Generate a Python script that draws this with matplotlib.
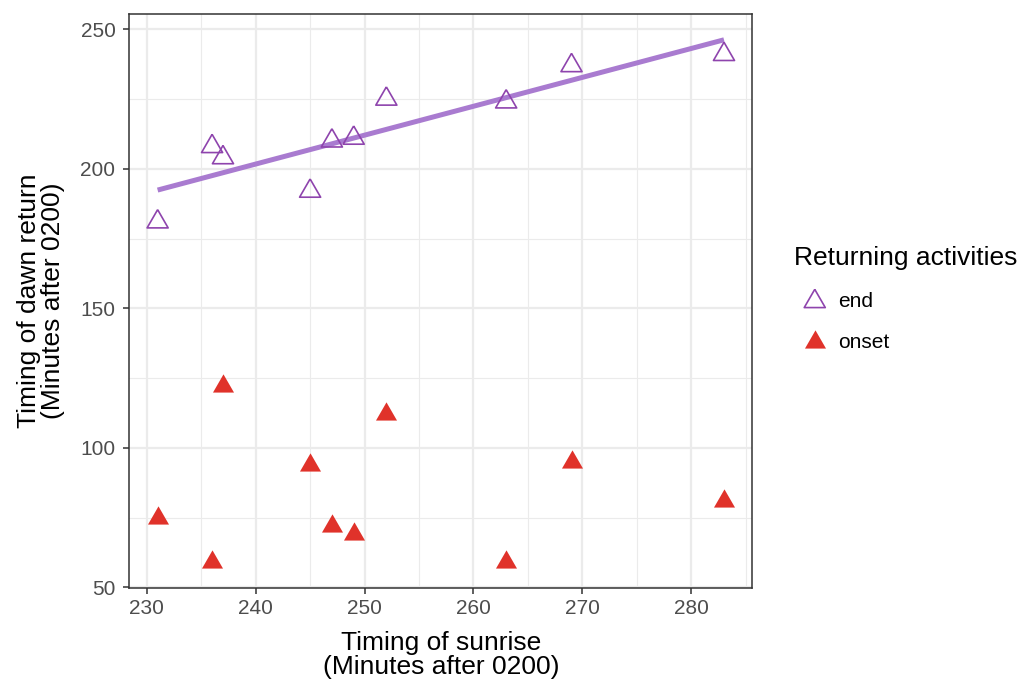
import numpy as np
import matplotlib
matplotlib.use("Agg")
import matplotlib.pyplot as plt
from matplotlib.ticker import MultipleLocator

plt.rcParams['font.family'] = ['Liberation Sans', 'DejaVu Sans']

# Timing of sunrise and of dawn return activities (minutes after 0200)
sunrise = [231, 236, 237, 245, 247, 249, 252, 263, 269, 283]
end_times = [181, 208, 204, 192, 210, 211, 225, 224, 237, 241]
onset_times = [75, 59, 122, 94, 72, 69, 112, 59, 95, 81]

purple = '#8E44AD'
line_purple = '#A97BD0'
red = '#E0322A'

# equilateral triangle centred on its centroid
tri = [(0, 1), (-0.866, -0.5), (0.866, -0.5), (0, 1)]

fig = plt.figure(figsize=(10.23, 6.84), dpi=100)
ax = fig.add_axes([0.1264, 0.1399, 0.6090, 0.8401])

# linear fit for the end of returning
slope, intercept = np.polyfit(sunrise, end_times, 1)
xs = np.array([min(sunrise), max(sunrise)])
fit = slope * xs + intercept
ax.plot(xs, fit, color=line_purple, lw=3.6, solid_capstyle='butt', zorder=3)

ax.scatter(sunrise, end_times, marker=tri, s=17.5**2, facecolors='none',
           edgecolors=purple, linewidths=1.2, zorder=4, label='end')
ax.scatter(sunrise, onset_times, marker=tri, s=17.5**2, color=red,
           linewidths=0, zorder=4, label='onset')

# ggplot-style 5% expansion
x0, x1 = min(sunrise), max(sunrise)
ymin = min(min(onset_times), fit.min())
ymax = max(max(end_times), fit.max())
ax.set_xlim(x0 - 0.05 * (x1 - x0), x1 + 0.05 * (x1 - x0))
ax.set_ylim(ymin - 0.05 * (ymax - ymin), ymax + 0.05 * (ymax - ymin))

ax.xaxis.set_major_locator(MultipleLocator(10))
ax.xaxis.set_minor_locator(MultipleLocator(5))
ax.yaxis.set_major_locator(MultipleLocator(50))
ax.yaxis.set_minor_locator(MultipleLocator(25))
ax.grid(which='major', color='#EBEBEB', lw=1.6)
ax.grid(which='minor', color='#EBEBEB', lw=0.8)
ax.set_axisbelow(True)

for s in ax.spines.values():
    s.set_color('#333333')
    s.set_linewidth(1.1)
ax.tick_params(which='major', length=4, width=1.1, color='#333333',
               labelsize=15, labelcolor='#4D4D4D')
ax.tick_params(axis='x', pad=4)
ax.tick_params(axis='y', pad=6)
ax.tick_params(which='minor', length=0)

ax.set_xlabel('Timing of sunrise\n(Minutes after 0200)', fontsize=19,
              linespacing=1.0, labelpad=9)
ax.set_ylabel('Timing of dawn return\n(Minutes after 0200)', fontsize=19,
              linespacing=1.0, labelpad=11)

leg = ax.legend(title='Returning activities', loc='upper left',
                bbox_to_anchor=(0.772, 0.6463), bbox_transform=fig.transFigure,
                frameon=False, fontsize=15, title_fontsize=19,
                handletextpad=0.13, labelspacing=1.05, borderpad=0.2,
                borderaxespad=0)
leg._legend_box.align = 'left'

fig.savefig('out.png', dpi=100)
